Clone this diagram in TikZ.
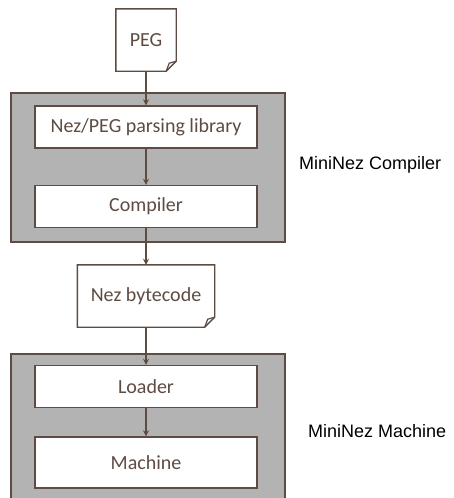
\documentclass[tikz,border=0pt]{standalone}
\usepackage{fontspec}
\setmainfont{Carlito}
\newfontfamily\arialf{Liberation Sans}
\usetikzlibrary{arrows.meta,calc}
\definecolor{edgec}{HTML}{5E4C42}
\definecolor{txtc}{HTML}{5E4C42}
\definecolor{panelc}{HTML}{B3B3B3}
\begin{document}
\begin{tikzpicture}[x=1pt,y=-1pt,
  panelbox/.style={draw=edgec,line width=1.4pt,fill=panelc},
  innerbox/.style={draw=edgec,line width=1.4pt,fill=white,minimum width=222pt,minimum height=42pt,inner sep=0pt,font=\fontsize{20}{24}\selectfont,text=txtc},
  docnode/.style={minimum height=62pt,inner sep=0pt,font=\fontsize{20}{24}\selectfont,text=txtc},
  docline/.style={draw=edgec,line width=1.4pt,fill=white,line join=miter},
  foldline/.style={draw=edgec,line width=1.2pt},
  flow/.style={draw=edgec,line width=1.5pt,-{Stealth[length=6pt,width=6pt,inset=2pt]}},
  side/.style={font=\arialf\fontsize{18}{22}\selectfont,anchor=west,text=black,inner sep=0pt}]
\useasboundingbox (0,0) rectangle (453,498);
\begin{scope}
\clip (0,0) rectangle (453,498);
\path[panelbox] (11,93) rectangle (285,242);
\path[panelbox] (11,354) rectangle (285,520);
\end{scope}
% document nodes
\node[docnode,minimum width=60pt] (peg) at (146,40) {PEG};
\node[docnode,minimum width=137pt] (nbc) at (146,296) {Nez bytecode};
\foreach \d in {peg,nbc}{
  \draw[docline] (\d.north west) -- (\d.north east) -- ($(\d.south east)+(0,-10)$) -- ($(\d.south east)+(-10,0)$) -- (\d.south west) -- cycle;
  \draw[foldline] ($(\d.south east)+(-10,0)$) .. controls ($(\d.south east)+(-8,-4)$) .. ($(\d.south east)+(-7,-8)$) -- ($(\d.south east)+(0,-10)$);
}
\node[docnode,minimum width=60pt] at (peg) {PEG};
\node[docnode,minimum width=137pt] at (nbc) {Nez bytecode};
% inner boxes
\node[innerbox] (lib) at (146,127) {Nez/PEG parsing library};
\node[innerbox] (comp) at (146,206.5) {Compiler};
\node[innerbox] (load) at (146,386.5) {Loader};
\node[innerbox,minimum height=51pt] (mach) at (146,462.5) {Machine};
% connectors
\draw[flow] (peg.south) -- (lib.north);
\draw[flow] (lib.south) -- (comp.north);
\draw[flow] (comp.south) -- (nbc.north);
\draw[flow] (nbc.south) -- (load.north);
\draw[flow] (load.south) -- (mach.north);
% labels
\node[side] (lc) at (299,165) {MiniNez Compiler};
\node[side] (lm) at (308,431) {MiniNez Machine};
\end{tikzpicture}
\end{document}
